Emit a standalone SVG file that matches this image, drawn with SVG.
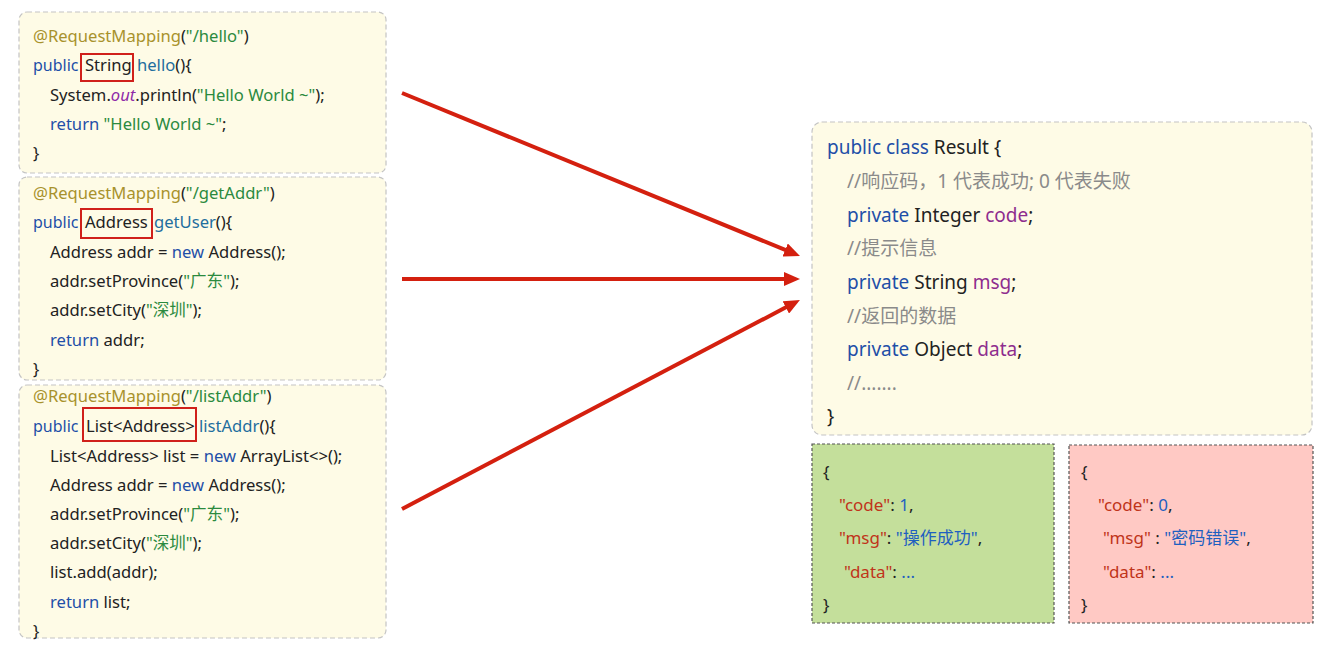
<svg xmlns="http://www.w3.org/2000/svg" width="1333" height="645" viewBox="0 0 1333 645">
<style>
text{font-family:"Noto Sans","Noto Sans CJK SC",sans-serif;font-size:16.6px;fill:#222}
text.sig{font-size:16px}
.res text{font-size:19px}
.json text{font-size:17px}
.box{fill:#fefbe6;stroke:#c4c4c4;stroke-width:1.2;stroke-dasharray:5 3}
.hl{fill:none;stroke:#d0201a;stroke-width:2}
.an{fill:#a8922c}
.st{fill:#2b8a3e}
.kw{fill:#1e4fa8}
.fn{fill:#1f6e9e}
.it{fill:#8e2aa8;font-style:italic}
.cm{fill:#8a8a8a}
.fd{fill:#8e2d8e}
.jk{fill:#c0341a}
.jv{fill:#1e60c0}
.arr{stroke:#d4200f;stroke-width:4;fill:none;marker-end:url(#ah)}
</style>
<defs>
<marker id="ah" markerUnits="userSpaceOnUse" markerWidth="16" markerHeight="14" refX="6" refY="7" orient="auto">
<path d="M0,0 L16,7 L0,14 z" fill="#d4200f"/>
</marker>
</defs>
<rect width="1333" height="645" fill="#ffffff"/>

<g id="node-hello">
<rect class="box" x="19" y="12" width="367" height="161" rx="8"/>
<text x="33" y="42"><tspan class="an">@RequestMapping</tspan><tspan>(</tspan><tspan class="st">"/hello"</tspan><tspan>)</tspan></text>
<text class="sig" x="33" y="71"><tspan class="kw">public</tspan><tspan x="85" font-size="16.6">String</tspan><tspan x="137" class="fn" font-size="16.6">hello</tspan><tspan font-size="16.6">(){</tspan></text>
<rect class="hl" x="81" y="54" width="52" height="27"/>
<text x="50" y="101"><tspan>System.</tspan><tspan class="it">out</tspan><tspan>.println(</tspan><tspan class="st">"Hello World ~"</tspan><tspan>);</tspan></text>
<text x="50" y="130"><tspan class="kw">return </tspan><tspan class="st">"Hello World ~"</tspan><tspan>;</tspan></text>
<text x="33" y="159">}</text>
</g>

<g id="node-getAddr">
<rect class="box" x="19" y="177" width="367" height="203" rx="8"/>
<text x="33" y="199"><tspan class="an">@RequestMapping</tspan><tspan>(</tspan><tspan class="st">"/getAddr"</tspan><tspan>)</tspan></text>
<text class="sig" x="33" y="228"><tspan class="kw">public</tspan><tspan x="85" font-size="16.6">Address</tspan><tspan x="154" class="fn" font-size="16.6">getUser</tspan><tspan font-size="16.6">(){</tspan></text>
<rect class="hl" x="81" y="209" width="71" height="29"/>
<text x="50" y="258"><tspan>Address addr = </tspan><tspan class="kw">new </tspan><tspan>Address();</tspan></text>
<text x="50" y="287"><tspan>addr.setProvince(</tspan><tspan class="st">"广东"</tspan><tspan>);</tspan></text>
<text x="50" y="316"><tspan>addr.setCity(</tspan><tspan class="st">"深圳"</tspan><tspan>);</tspan></text>
<text x="50" y="346"><tspan class="kw">return </tspan><tspan>addr;</tspan></text>
<text x="33" y="375">}</text>
</g>

<g id="node-listAddr">
<rect class="box" x="19" y="385" width="367" height="253" rx="8"/>
<text x="33" y="402"><tspan class="an">@RequestMapping</tspan><tspan>(</tspan><tspan class="st">"/listAddr"</tspan><tspan>)</tspan></text>
<text class="sig" x="33" y="432"><tspan class="kw">public</tspan><tspan x="86" font-size="16.6">List&lt;Address&gt;</tspan><tspan x="199" class="fn" font-size="16.6">listAddr</tspan><tspan font-size="16.6">(){</tspan></text>
<rect class="hl" x="83" y="408" width="113" height="33"/>
<text x="50" y="462"><tspan>List&lt;Address&gt; list = </tspan><tspan class="kw">new </tspan><tspan>ArrayList&lt;&gt;();</tspan></text>
<text x="50" y="491"><tspan>Address addr = </tspan><tspan class="kw">new </tspan><tspan>Address();</tspan></text>
<text x="50" y="520"><tspan>addr.setProvince(</tspan><tspan class="st">"广东"</tspan><tspan>);</tspan></text>
<text x="50" y="549"><tspan>addr.setCity(</tspan><tspan class="st">"深圳"</tspan><tspan>);</tspan></text>
<text x="50" y="578">list.add(addr);</text>
<text x="50" y="608"><tspan class="kw">return </tspan><tspan>list;</tspan></text>
<text x="33" y="637">}</text>
</g>

<g id="node-result" class="res">
<rect class="box" x="812" y="122" width="500" height="313" rx="10"/>
<text x="827" y="154"><tspan class="kw">public class </tspan><tspan>Result {</tspan></text>
<text x="847" y="188" class="cm">//响应码，1 代表成功; 0 代表失败</text>
<text x="847" y="222"><tspan class="kw">private </tspan><tspan>Integer </tspan><tspan class="fd">code</tspan><tspan>;</tspan></text>
<text x="847" y="255" class="cm">//提示信息</text>
<text x="847" y="289"><tspan class="kw">private </tspan><tspan>String </tspan><tspan class="fd">msg</tspan><tspan>;</tspan></text>
<text x="847" y="323" class="cm">//返回的数据</text>
<text x="847" y="356"><tspan class="kw">private </tspan><tspan>Object </tspan><tspan class="fd">data</tspan><tspan>;</tspan></text>
<text x="847" y="390" class="cm">//.......</text>
<text x="827" y="423">}</text>
</g>

<g id="node-success" class="json">
<rect x="812" y="444" width="242" height="179" fill="#c4df9b" stroke="#555" stroke-width="1.2" stroke-dasharray="3 2"/>
<text x="823" y="478">{</text>
<text x="839" y="511"><tspan class="jk">"code"</tspan><tspan>: </tspan><tspan class="jv">1</tspan><tspan>,</tspan></text>
<text x="839" y="544"><tspan class="jk">"msg"</tspan><tspan>: </tspan><tspan class="jv">"操作成功"</tspan><tspan>,</tspan></text>
<text x="844" y="578"><tspan class="jk">"data"</tspan><tspan>: </tspan><tspan class="jv">...</tspan></text>
<text x="823" y="611">}</text>
</g>

<g id="node-error" class="json">
<rect x="1069" y="445" width="244" height="178" fill="#ffc9c4" stroke="#555" stroke-width="1.2" stroke-dasharray="3 2"/>
<text x="1081" y="478">{</text>
<text x="1098" y="511"><tspan class="jk">"code"</tspan><tspan>: </tspan><tspan class="jv">0</tspan><tspan>,</tspan></text>
<text x="1103" y="544"><tspan class="jk">"msg"</tspan><tspan> : </tspan><tspan class="jv">"密码错误"</tspan><tspan>,</tspan></text>
<text x="1103" y="578"><tspan class="jk">"data"</tspan><tspan>: </tspan><tspan class="jv">...</tspan></text>
<text x="1081" y="611">}</text>
</g>

<g id="connectors">
<line class="arr" x1="402" y1="93" x2="790.7" y2="252.2"/>
<line class="arr" x1="402" y1="279" x2="790" y2="279"/>
<line class="arr" x1="402" y1="509" x2="791.1" y2="304.6"/>
</g>
</svg>
